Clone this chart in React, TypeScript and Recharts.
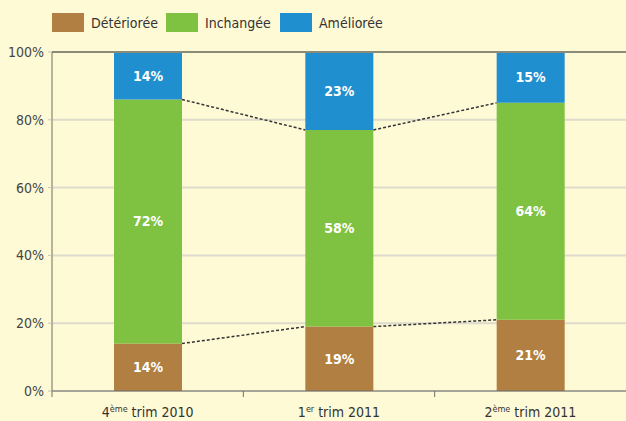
import { BarChart, Bar, XAxis, YAxis, CartesianGrid, Legend, ReferenceLine, LabelList, Rectangle } from "recharts";

const categories = ["4ème trim 2010", "1er trim 2011", "2ème trim 2011"];
const deterioree = [14, 19, 21];
const inchangee = [72, 58, 64];
const amelioree = [14, 23, 15];
const yTicks = [0, 20, 40, 60, 80, 100];

const W = 626;
const H = 421;
const Y_W = 52;
const FONT = "'Liberation Sans Narrow', 'Arial Narrow', 'DejaVu Sans Condensed', sans-serif";
const STEP = (W - Y_W) / categories.length;

const COLORS = { d: "#B07F41", i: "#7FC241", a: "#1F8FD0" };

const rows = categories.map((name, k) => ({
  name,
  d: deterioree[k],
  i: inchangee[k],
  a: amelioree[k],
}));

const cumD = deterioree;
const cumI = deterioree.map((v, k) => v + inchangee[k]);

// bar + dashed link to the next bar at the same stacked level
const linkedShape = (seg: number[], cum: number[]) => (props: any) => {
  const { x, y, width, height, index, fill } = props;
  const ppp = height / seg[index];
  const last = index >= cum.length - 1;
  return (
    <g>
      <Rectangle x={x} y={y} width={width} height={height} fill={fill} />
      {!last && (
        <line
          x1={x + width}
          y1={y}
          x2={x + STEP}
          y2={y + (cum[index] - cum[index + 1]) * ppp}
          stroke="#333"
          strokeWidth={1.5}
          strokeDasharray="3 2"
        />
      )}
    </g>
  );
};

const XTick = ({ x, y, payload }: any) => {
  const m = /^(\d)(\S+)( .*)$/.exec(payload.value) || [];
  return (
    <g>
      <line x1={x - STEP / 2} y1={y} x2={x - STEP / 2} y2={y + 6} stroke="#6E6E64" strokeWidth={1} />
      <text x={x} y={y + 26} textAnchor="middle" fill="#333" fontSize={14} fontFamily={FONT}>
        <tspan>{m[1]}</tspan>
        <tspan fontSize={9} dy={-5}>{m[2]}</tspan>
        <tspan dy={5}>{m[3]}</tspan>
      </text>
    </g>
  );
};

const legendItems = [
  { label: "Détériorée", color: COLORS.d },
  { label: "Inchangée", color: COLORS.i },
  { label: "Améliorée", color: COLORS.a },
];

const LegendContent = () => (
  <div style={{ display: "flex", alignItems: "center", fontFamily: FONT, fontSize: 14, color: "#333" }}>
    {legendItems.map((it) => (
      <div key={it.label} style={{ display: "flex", alignItems: "center", width: 114 }}>
        <div style={{ width: 32, height: 19, background: it.color, marginRight: 7 }} />
        <span>{it.label}</span>
      </div>
    ))}
  </div>
);

const labelStyle = { fill: "#fff", fontSize: 14, fontWeight: 700, fontFamily: FONT };

export default function App() {
  return (
    <div style={{ position: "absolute", left: 0, top: 0, width: W, height: H, background: "#FFFAD6" }}>
      <BarChart width={W} height={H} data={rows} margin={{ top: 52, right: 0, left: 0, bottom: 0 }} barSize={68}>
        <CartesianGrid vertical={false} stroke="#DDDBCB" strokeWidth={2} />
        <ReferenceLine y={100} stroke="#8B8A78" strokeWidth={2} />
        <XAxis
          dataKey="name"
          height={30}
          tick={<XTick />}
          tickLine={false}
          tickSize={0}
          tickMargin={0}
          stroke="#6E6E64"
          strokeWidth={1}
          interval={0}
        />
        <YAxis
          width={Y_W}
          domain={[0, 100]}
          ticks={yTicks}
          tickFormatter={(v) => `${v}%`}
          tick={{ fill: "#444", fontSize: 14, fontFamily: FONT }}
          tickLine={{ stroke: "#C8C6B6" }}
          tickSize={4}
          tickMargin={4}
          stroke="#6E6E64"
          strokeWidth={1}
        />
        <Legend
          verticalAlign="middle"
          content={<LegendContent />}
          wrapperStyle={{ top: 13, left: 52, width: 500, height: 20 }}
        />
        <Bar dataKey="d" stackId="s" fill={COLORS.d} isAnimationActive={false} shape={linkedShape(deterioree, cumD)}>
          <LabelList dataKey="d" position="center" formatter={(v: any) => `${v}%`} style={labelStyle} />
        </Bar>
        <Bar dataKey="i" stackId="s" fill={COLORS.i} isAnimationActive={false} shape={linkedShape(inchangee, cumI)}>
          <LabelList dataKey="i" position="center" formatter={(v: any) => `${v}%`} style={labelStyle} />
        </Bar>
        <Bar dataKey="a" stackId="s" fill={COLORS.a} isAnimationActive={false}>
          <LabelList dataKey="a" position="center" formatter={(v: any) => `${v}%`} style={labelStyle} />
        </Bar>
      </BarChart>
    </div>
  );
}
